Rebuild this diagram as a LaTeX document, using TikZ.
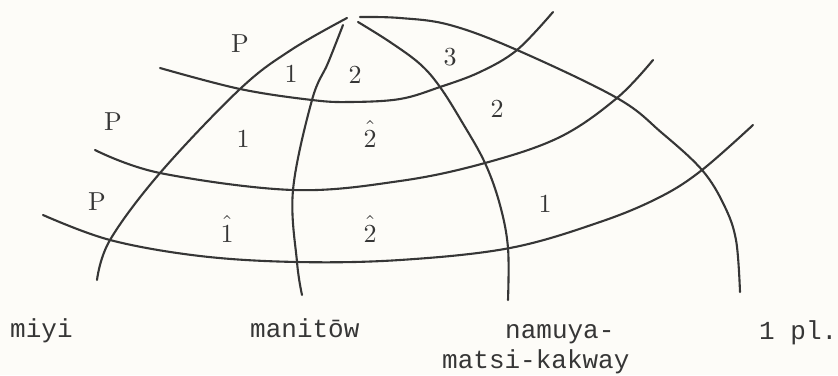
\documentclass[tikz,border=0pt]{standalone}
\usepackage{fontspec}
\newfontfamily\twfont{Liberation Mono}
\definecolor{ink}{HTML}{363636}
\definecolor{paper}{HTML}{FDFCF8}
\newcommand{\hatnum}[1]{$\hat{\raisebox{0pt}[7.4pt]{#1}}$}
\begin{document}
\begin{tikzpicture}[x=1pt,y=-1pt,
  curve/.style={draw=ink, line width=2.1pt, line cap=round},
  num/.style={text=ink, scale=2.6, inner sep=0pt, anchor=base},
  word/.style={text=ink, font=\twfont\fontsize{26}{30}\selectfont, inner sep=0pt, anchor=base west}]
\fill[paper] (0,0) rectangle (838,375);
\useasboundingbox (0,0) rectangle (838,375);
% radiating curves
\draw[curve] plot[smooth, tension=0.6] coordinates {(97,280) (110,240) (160,173) (240,89) (291,50) (347,18)};
\draw[curve] plot[smooth, tension=0.6] coordinates {(343,25) (328,63) (312,100) (293,190) (297,262) (302,295)};
\draw[curve] plot[smooth, tension=0.6] coordinates {(358,22) (390,42) (420,64) (440,87) (462,122) (485,163) (500,205) (508,248) (508,300)};
\draw[curve] plot[smooth, tension=0.6] coordinates {(360,17) (400,18) (450,25) (517,50) (617,98) (662,133) (702,170) (724,205) (736,240) (740,292)};
% cross curves
\draw[curve] plot[smooth, tension=0.6] coordinates {(160,68) (240,89) (312,100) (350,102) (400,99) (440,87) (480,72) (517,50) (553,12)};
\draw[curve] plot[smooth, tension=0.6] coordinates {(95,150) (160,173) (293,190) (400,181) (485,163) (560,137) (617,98) (653,60)};
\draw[curve] plot[smooth, tension=0.6] coordinates {(43,215) (110,240) (200,256) (297,262) (400,260) (510,248) (600,222) (660,197) (702,170) (753,125)};
% labels
\node[num] (pA) at (240,52) {P};
\node[num] (nA1) at (291,82) {1};
\node[num] (nA2) at (355,83) {2};
\node[num] (nA3) at (450,65) {3};
\node[num] (nA4) at (497,117) {2};
\node[num] (pB) at (113,130) {P};
\node[num] (nB1) at (243,147) {1};
\node[num] (nB2) at (370,147) {\hatnum{2}};
\node[num] (pC) at (97,210) {P};
\node[num] (nC1) at (227,242) {\hatnum{1}};
\node[num] (nC2) at (370,242) {\hatnum{2}};
\node[num] (nC3) at (545,212) {1};
% words
\node[word] (w1) at (10,337) {miyi};
\node[word] (w2) at (250,337) {manitōw};
\node[word] (w3) at (505,338) {namuya-};
\node[word] (w4) at (442,368) {matsi-kakway};
\node[word] (w5) at (759,339) {1 pl.};
\end{tikzpicture}
\end{document}
